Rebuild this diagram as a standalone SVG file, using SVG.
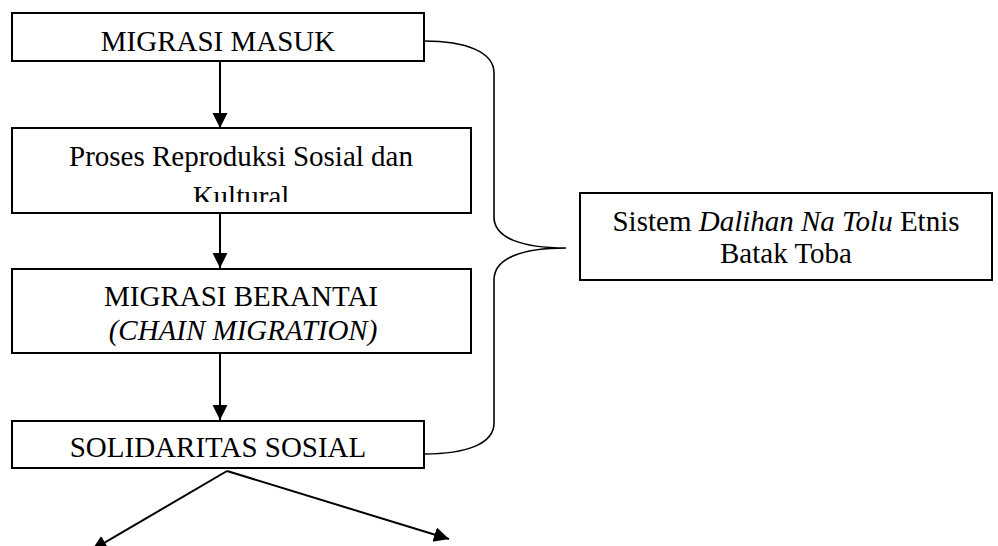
<svg xmlns="http://www.w3.org/2000/svg" width="998" height="546" viewBox="0 0 998 546">
<style>
.box{fill:#fff;stroke:#000;stroke-width:2}
.t{font-family:"Liberation Serif","Times New Roman",serif;font-size:29px;fill:#000;text-anchor:middle}
.i{font-style:italic}
.c{fill:none;stroke:#000;stroke-width:2}
.b{fill:none;stroke:#000;stroke-width:1.6}
</style>
<defs>
<marker id="ah" markerUnits="userSpaceOnUse" markerWidth="16" markerHeight="16" refX="15" refY="7.5" orient="auto">
<path d="M0,0 L15,7.5 L0,15 z" fill="#000"/>
</marker>
<clipPath id="clipK"><rect x="12" y="170" width="459" height="32"/></clipPath>
</defs>
<rect width="998" height="546" fill="#fff"/>
<g id="connectors">
<line class="c" x1="220" y1="61" x2="220" y2="128" marker-end="url(#ah)"/>
<line class="c" x1="220" y1="213" x2="220" y2="268" marker-end="url(#ah)"/>
<line class="c" x1="220" y1="353" x2="220" y2="420" marker-end="url(#ah)"/>
<line class="c" x1="227" y1="471" x2="92" y2="550" marker-end="url(#ah)"/>
<line class="c" x1="227" y1="471" x2="449" y2="539" marker-end="url(#ah)"/>
<path id="brace" class="b" d="M424,41 C466,41 494,52 494,73 L494,217 C494,238 522,248 566,248 C522,248 494,258 494,280 L494,423 C494,444 466,454 424,454"/>
</g>
<g id="migrasi-masuk">
<rect class="box" x="12" y="13" width="412" height="48"/>
<text class="t" x="218" y="51">MIGRASI MASUK</text>
</g>
<g id="proses-reproduksi">
<rect class="box" x="12" y="128" width="459" height="85"/>
<text class="t" x="241" y="166">Proses Reproduksi Sosial dan</text>
<text class="t" x="241" y="206" clip-path="url(#clipK)">Kultural</text>
</g>
<g id="migrasi-berantai">
<rect class="box" x="12" y="269" width="459" height="84"/>
<text class="t" x="241" y="306">MIGRASI BERANTAI</text>
<text class="t i" x="243" y="340">(CHAIN MIGRATION)</text>
</g>
<g id="solidaritas-sosial">
<rect class="box" x="12" y="421" width="412" height="47"/>
<text class="t" x="218" y="457">SOLIDARITAS SOSIAL</text>
</g>
<g id="dalihan-na-tolu">
<rect class="box" x="580" y="193" width="412" height="87"/>
<text class="t" x="786" y="231">Sistem <tspan class="i">Dalihan Na Tolu</tspan> Etnis</text>
<text class="t" x="786" y="263">Batak Toba</text>
</g>
</svg>
